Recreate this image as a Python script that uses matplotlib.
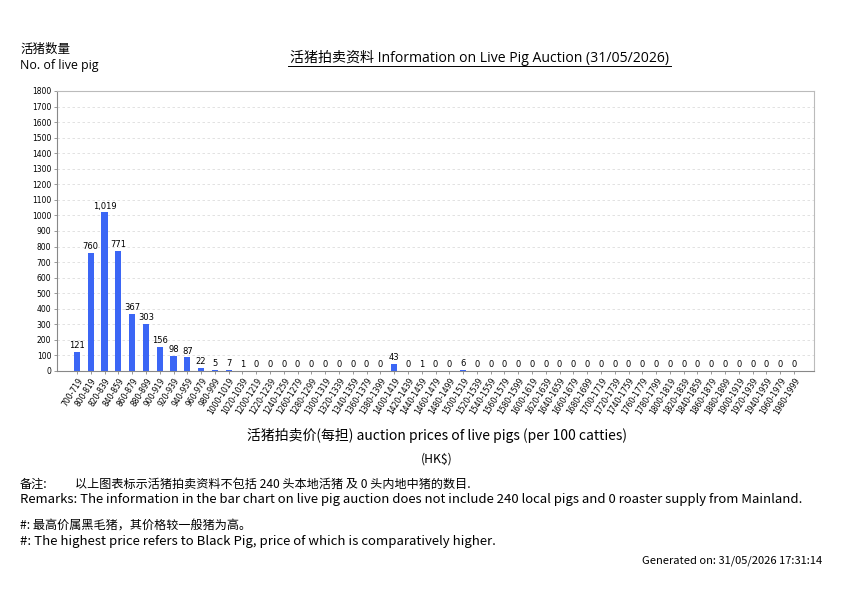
import matplotlib
matplotlib.use("Agg")
import matplotlib.pyplot as plt
from matplotlib.lines import Line2D

# ---- data ----
price_ranges = ["700-719", "800-819", "820-839", "840-859", "860-879", "880-899",
                "900-919", "920-939", "940-959", "960-979", "980-999", "1000-1019",
                "1020-1039"] + [f"{p}-{p + 19}" for p in range(1200, 2000, 20)]
pig_counts = [121, 760, 1019, 771, 367, 303, 156, 98, 87, 22, 5, 7, 1,
              0, 0, 0, 0, 0, 0, 0, 0, 0, 0,   # 1200 .. 1380
              43, 0, 1, 0, 0, 6,              # 1400 .. 1500
              0, 0, 0, 0, 0, 0, 0, 0, 0, 0,   # 1520 .. 1700
              0, 0, 0, 0, 0, 0, 0, 0, 0, 0,   # 1720 .. 1900
              0, 0, 0, 0]                     # 1920 .. 1980
y_ticks = list(range(0, 1900, 100))

CJK = ["Noto Sans CJK SC", "DejaVu Sans"]
LAT = ["Open Sans", "Noto Sans CJK SC"]

fig = plt.figure(figsize=(8.42, 5.95), dpi=100)
ax = fig.add_axes([57 / 842, 1 - 371 / 595, (814 - 57) / 842, (371 - 91) / 595])

x = list(range(len(price_ranges)))
ax.bar(x, pig_counts, width=0.45, color="#3b66f5", zorder=3)
for xi, v in zip(x, pig_counts):
    ax.text(xi, v + 12, f"{v:,}", ha="center", va="bottom", fontsize=6,
            family="DejaVu Sans", zorder=4)

ax.set_xlim(-1.45, len(price_ranges) + 0.45)
ax.set_ylim(0, 1800)
ax.set_yticks(y_ticks)
ax.set_yticklabels([str(t) for t in y_ticks], fontsize=5.5, family="DejaVu Sans")
ax.set_xticks(x)
ax.set_xticklabels(price_ranges, rotation=58, ha="right", rotation_mode="anchor",
                   fontsize=5.5, family="DejaVu Sans")
ax.tick_params(axis="both", length=2, width=0.6, color="#888888", pad=2)
ax.yaxis.grid(True, linestyle=(0, (3, 3)), color="#dddddd", linewidth=0.6, zorder=0)
for side in ["left", "bottom"]:
    ax.spines[side].set_color("#888888")
for side in ["top", "right"]:
    ax.spines[side].set_color("#bbbbbb")
for s in ax.spines.values():
    s.set_linewidth(0.8)

# ---- texts around the chart ----
def px(xp, yp):
    return xp / 842, 1 - yp / 595

fig.text(*px(20, 49), "活猪数量", fontsize=9, family=CJK, va="center")
fig.text(*px(20, 66), "No. of live pig", fontsize=8.9, family=LAT, va="center")

fig.text(*px(480, 58), "活猪拍卖资料 Information on Live Pig Auction (31/05/2026)",
         fontsize=10.1, family=LAT, ha="center", va="center")
fig.add_artist(Line2D([288 / 842, 671 / 842], [1 - 66 / 595, 1 - 66 / 595],
                      color="black", linewidth=0.7))

fig.text(*px(437, 435), "活猪拍卖价(每担) auction prices of live pigs (per 100 catties)",
         fontsize=10, family=CJK, ha="center", va="center")
fig.text(*px(437, 459), "(HK$)", fontsize=8.8, family=CJK, ha="center", va="center")

fig.text(*px(20, 484), "备注:", fontsize=8.7, family=CJK, va="center")
fig.text(*px(75, 484), "以上图表标示活猪拍卖资料不包括 240 头本地活猪 及 0 头内地中猪的数目.",
         fontsize=8.7, family=CJK, va="center")
fig.text(*px(20, 500), "Remarks: The information in the bar chart on live pig auction does "
         "not include 240 local pigs and 0 roaster supply from Mainland.",
         fontsize=9.45, family=CJK, va="center")
fig.text(*px(20, 525), "#: 最高价属黑毛猪，其价格较一般猪为高。", fontsize=8.7,
         family=CJK, va="center")
fig.text(*px(20, 542), "#: The highest price refers to Black Pig, price of which is "
         "comparatively higher.", fontsize=9.5, family=CJK, va="center")
fig.text(*px(822, 561), "Generated on: 31/05/2026 17:31:14", fontsize=8,
         family=CJK, ha="right", va="center")

fig.savefig("out.png", dpi=100)
